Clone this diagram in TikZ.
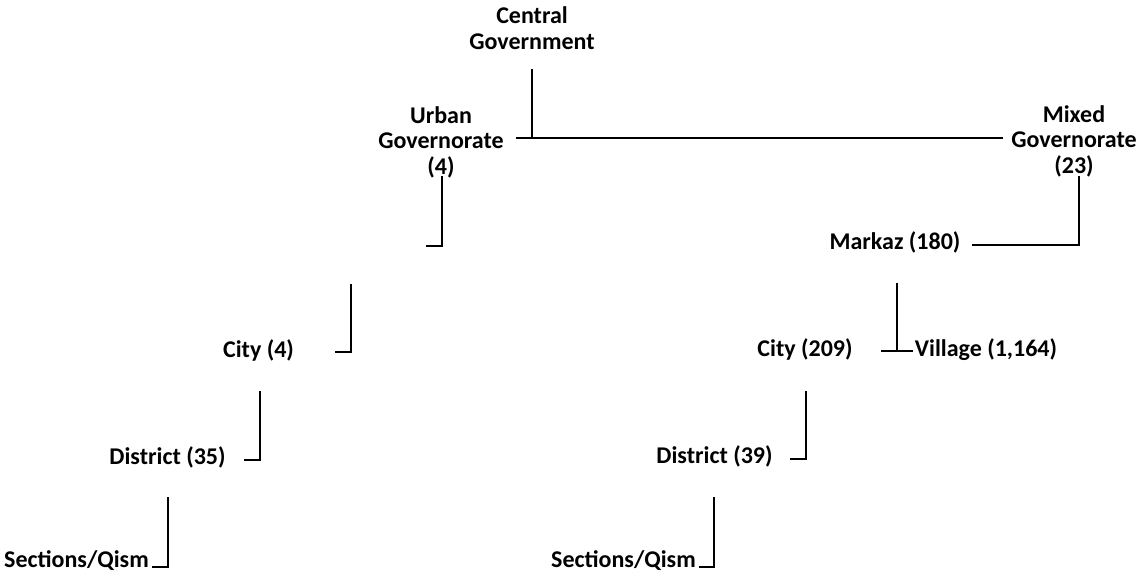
\documentclass[tikz,border=0pt]{standalone}
\usepackage{fontspec}
\setmainfont{Carlito}
\begin{document}
\begin{tikzpicture}[x=1pt,y=-1pt,
  label/.style={inner sep=0pt,align=center,font=\fontsize{24}{25.5}\selectfont\bfseries},
  link/.style={draw=black,line width=2.2pt,line cap=rect}]
\useasboundingbox (0,0) rectangle (1144,573);

% units of the hierarchy
\node[label] (cg)   at (532,28)   {Central\\Government};
\node[label] (ug)   at (441,142)  {Urban\\Governorate\\(4)};
\node[label] (mg)   at (1074,141) {Mixed\\Governorate\\(23)};
\node[label] (mk)   at (895,242)  {Markaz (180)};
\node[label] (cu)   at (258.5,350){City (4)};
\node[label] (cm)   at (805,349)  {City (209)};
\node[label] (vl)   at (986,350)  {Village (1,164)};
\node[label] (du)   at (167.5,457){District (35)};
\node[label] (dm)   at (714.5,456){District (39)};
\node[label] (su)   at (76.5,561) {Sections/Qism};
\node[label] (sm)   at (623.5,561){Sections/Qism};

% bend points of the elbow connectors
\coordinate (cg-top) at (532,70);
\coordinate (cg-bar) at (532,138);
\coordinate (bar-w)  at (517,138);
\coordinate (bar-e)  at (1002,138);

\coordinate (ug-a) at (442,177);
\coordinate (ug-b) at (442,246);
\coordinate (ug-c) at (427,246);

\coordinate (mg-a) at (1079,177);
\coordinate (mg-b) at (1079,245);
\coordinate (mk-e) at (973,245);

\coordinate (cu-a) at (351,285);
\coordinate (cu-b) at (351,352);
\coordinate (cu-e) at (336,352);

\coordinate (mk-a) at (897,284);
\coordinate (mk-b) at (897,351);
\coordinate (cm-e) at (882,351);
\coordinate (vl-w) at (912,351);

\coordinate (du-a) at (260,392);
\coordinate (du-b) at (260,460);
\coordinate (du-e) at (245,460);

\coordinate (dm-a) at (806,392);
\coordinate (dm-b) at (806,459);
\coordinate (dm-e) at (791,459);

\coordinate (su-a) at (168,498);
\coordinate (su-b) at (168,567);
\coordinate (su-e) at (153,567);

\coordinate (sm-a) at (714,498);
\coordinate (sm-b) at (714,567);
\coordinate (sm-e) at (700,567);

% connectors
\draw[link] (cg-top) -- (cg-bar);
\draw[link] (bar-w) -- (bar-e);
\draw[link] (ug-a) -- (ug-b) -- (ug-c);
\draw[link] (mg-a) -- (mg-b) -- (mk-e);
\draw[link] (cu-a) -- (cu-b) -- (cu-e);
\draw[link] (mk-a) -- (mk-b);
\draw[link] (cm-e) -- (vl-w);
\draw[link] (du-a) -- (du-b) -- (du-e);
\draw[link] (dm-a) -- (dm-b) -- (dm-e);
\draw[link] (su-a) -- (su-b) -- (su-e);
\draw[link] (sm-a) -- (sm-b) -- (sm-e);
\end{tikzpicture}
\end{document}
